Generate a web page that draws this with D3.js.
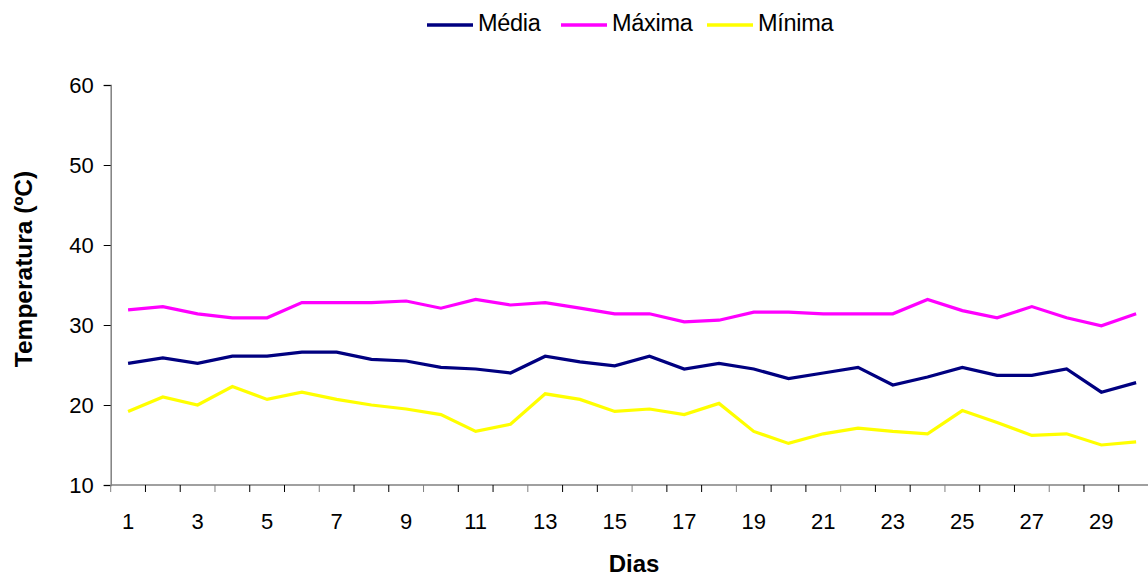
<!DOCTYPE html>
<html>
<head>
<meta charset="utf-8">
<script src="https://cdn.jsdelivr.net/npm/d3@7"></script>
<style>
  body { margin: 0; background: #fff; }
  svg { display: block; font-family: "Liberation Sans", Arial, sans-serif; }
</style>
</head>
<body>
<div id="chart"></div>
<script>
const days = d3.range(1, 31);
const media = [25.2, 25.9, 25.2, 26.1, 26.1, 26.6, 26.6, 25.7, 25.5, 24.7,
               24.5, 24.0, 26.1, 25.4, 24.9, 26.1, 24.5, 25.2, 24.5, 23.3,
               24.0, 24.7, 22.5, 23.5, 24.7, 23.7, 23.7, 24.5, 21.6, 22.8];
const maxima = [31.9, 32.3, 31.4, 30.9, 30.9, 32.8, 32.8, 32.8, 33.0, 32.1,
                33.2, 32.5, 32.8, 32.1, 31.4, 31.4, 30.4, 30.6, 31.6, 31.6,
                31.4, 31.4, 31.4, 33.2, 31.8, 30.9, 32.3, 30.9, 29.9, 31.4];
const minima = [19.2, 21.0, 20.0, 22.3, 20.7, 21.6, 20.7, 20.0, 19.5, 18.8,
                16.7, 17.6, 21.4, 20.7, 19.2, 19.5, 18.8, 20.2, 16.7, 15.2,
                16.4, 17.1, 16.7, 16.4, 19.3, 17.8, 16.2, 16.4, 15.0, 15.4];
const yTicks = [10, 20, 30, 40, 50, 60];

const series = [
    { name: "Média", values: media, color: "#000080" },
    { name: "Máxima", values: maxima, color: "#ff00ff" },
    { name: "Mínima", values: minima, color: "#ffff00" },
];

const width = 1148, height = 578;
const plotLeft = 110.7, plotTop = 85, plotBottom = 485;
const band = 34.76;

const svg = d3.select("#chart").append("svg")
    .attr("width", width)
    .attr("height", height);

const x = d3.scaleBand()
    .domain(days)
    .range([plotLeft, plotLeft + band * days.length])
    .padding(0);

const y = d3.scaleLinear()
    .domain([10, 60])
    .range([plotBottom, plotTop]);

// y axis
const yAxis = svg.append("g")
    .attr("transform", `translate(${plotLeft},0)`)
    .call(d3.axisLeft(y).tickValues(yTicks).tickSize(7).tickPadding(10));
yAxis.select(".domain").attr("stroke", "#808080").attr("stroke-width", 1.5);
yAxis.selectAll(".tick line").attr("stroke", "#000");
yAxis.selectAll(".tick text")
    .attr("font-size", 22)
    .attr("fill", "#000")
    .attr("font-family", "Liberation Sans, Arial, sans-serif");

// x axis line + ticks at category boundaries
svg.append("line")
    .attr("x1", plotLeft).attr("x2", width)
    .attr("y1", plotBottom).attr("y2", plotBottom)
    .attr("stroke", "#808080").attr("stroke-width", 1.5);

svg.append("g")
    .selectAll("line")
    .data(days)
    .join("line")
    .attr("x1", d => x(d)).attr("x2", d => x(d))
    .attr("y1", plotBottom).attr("y2", plotBottom + 7)
    .attr("stroke", (d, i) => i % 3 === 0 ? "#808080" : "#000")
    .attr("stroke-width", 1);

svg.append("g")
    .selectAll("text")
    .data(days.filter(d => d % 2 === 1))
    .join("text")
    .attr("x", d => x(d) + x.bandwidth() / 2)
    .attr("y", 529)
    .attr("text-anchor", "middle")
    .attr("font-size", 22)
    .text(d => d);

// lines
const line = d3.line()
    .x((d, i) => x(days[i]) + x.bandwidth() / 2)
    .y(d => y(d));

svg.append("g")
    .selectAll("path")
    .data(series)
    .join("path")
    .attr("fill", "none")
    .attr("stroke", d => d.color)
    .attr("stroke-width", 3.2)
    .attr("stroke-linejoin", "miter")
    .attr("d", d => line(d.values));

// axis titles
svg.append("text")
    .attr("transform", "translate(32,269) rotate(-90)")
    .attr("text-anchor", "middle")
    .attr("font-size", 24.5)
    .attr("font-weight", "bold")
    .text("Temperatura (ºC)");

svg.append("text")
    .attr("x", 634)
    .attr("y", 571.5)
    .attr("text-anchor", "middle")
    .attr("font-size", 24)
    .attr("font-weight", "bold")
    .text("Dias");

// legend
const legendX = [427, 561, 707];
const legend = svg.append("g")
    .selectAll("g")
    .data(series)
    .join("g")
    .attr("transform", (d, i) => `translate(${legendX[i]},25)`);

legend.append("line")
    .attr("x1", 0).attr("x2", 46)
    .attr("stroke", d => d.color)
    .attr("stroke-width", 3.5);

legend.append("text")
    .attr("x", 51)
    .attr("y", 6)
    .attr("font-size", 23.5)
    .attr("letter-spacing", "-0.3")
    .text(d => d.name);
</script>
</body>
</html>
